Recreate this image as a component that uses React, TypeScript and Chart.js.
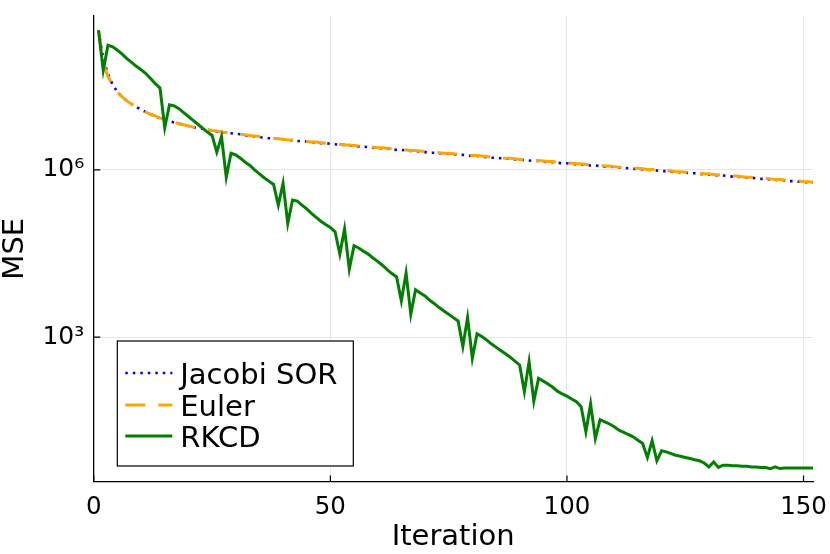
import { useEffect, useRef } from 'react';
import Chart from 'chart.js/auto';

Chart.defaults.font.family = "'DejaVu Sans', sans-serif";

const xTicks = [0, 50, 100, 150];
const yTicks = [1e3, 1e6];
const yTickLabels = ['10³', '10⁶'];
const seriesLabels = ['Jacobi SOR', 'Euler', 'RKCD'];
const seriesColors = ['#0000ff', '#ffa500', '#008000'];

// log10(MSE) for iterations 1..152
const jacobiLog = [
  8.5, 8.0, 7.72, 7.53, 7.4, 7.31, 7.24, 7.18, 7.13, 7.08,
  7.04, 7.0, 6.96, 6.93, 6.9, 6.88, 6.85, 6.83, 6.81, 6.79,
  6.77, 6.75, 6.74, 6.72, 6.71, 6.69, 6.68, 6.67, 6.66, 6.65,
  6.64, 6.62, 6.61, 6.6, 6.59, 6.58, 6.57, 6.56, 6.56, 6.55,
  6.54, 6.53, 6.52, 6.51, 6.51, 6.5, 6.49, 6.48, 6.48, 6.47,
  6.46, 6.45, 6.45, 6.44, 6.43, 6.42, 6.42, 6.41, 6.4, 6.39,
  6.39, 6.38, 6.37, 6.36, 6.36, 6.35, 6.34, 6.34, 6.33, 6.32,
  6.31, 6.31, 6.3, 6.29, 6.29, 6.28, 6.27, 6.27, 6.26, 6.25,
  6.25, 6.24, 6.23, 6.22, 6.22, 6.21, 6.2, 6.2, 6.19, 6.18,
  6.18, 6.17, 6.16, 6.16, 6.15, 6.14, 6.14, 6.13, 6.12, 6.12,
  6.11, 6.1, 6.1, 6.09, 6.08, 6.08, 6.07, 6.06, 6.06, 6.05,
  6.04, 6.04, 6.03, 6.02, 6.02, 6.01, 6.0, 6.0, 5.99, 5.98,
  5.98, 5.97, 5.96, 5.96, 5.95, 5.94, 5.94, 5.93, 5.92, 5.92,
  5.91, 5.9, 5.9, 5.89, 5.88, 5.88, 5.87, 5.86, 5.86, 5.85,
  5.84, 5.84, 5.83, 5.82, 5.82, 5.81, 5.8, 5.8, 5.79, 5.78,
  5.78, 5.77,
];

const eulerLog = [
  8.5, 7.9, 7.68, 7.52, 7.4, 7.31, 7.24, 7.18, 7.13, 7.08,
  7.04, 7.0, 6.97, 6.93, 6.91, 6.88, 6.86, 6.83, 6.81, 6.79,
  6.77, 6.76, 6.74, 6.73, 6.71, 6.7, 6.68, 6.67, 6.66, 6.65,
  6.64, 6.63, 6.62, 6.61, 6.6, 6.59, 6.58, 6.57, 6.56, 6.55,
  6.54, 6.54, 6.53, 6.52, 6.51, 6.5, 6.5, 6.49, 6.48, 6.48,
  6.47, 6.46, 6.45, 6.45, 6.44, 6.43, 6.43, 6.42, 6.41, 6.4,
  6.4, 6.39, 6.38, 6.37, 6.37, 6.36, 6.35, 6.35, 6.34, 6.33,
  6.32, 6.32, 6.31, 6.3, 6.3, 6.29, 6.28, 6.28, 6.27, 6.26,
  6.26, 6.25, 6.24, 6.23, 6.23, 6.22, 6.21, 6.21, 6.2, 6.19,
  6.19, 6.18, 6.17, 6.17, 6.16, 6.15, 6.15, 6.14, 6.13, 6.13,
  6.12, 6.11, 6.11, 6.1, 6.09, 6.09, 6.08, 6.07, 6.07, 6.06,
  6.05, 6.05, 6.04, 6.03, 6.03, 6.02, 6.01, 6.01, 6.0, 5.99,
  5.99, 5.98, 5.97, 5.97, 5.96, 5.95, 5.95, 5.94, 5.93, 5.93,
  5.92, 5.91, 5.91, 5.9, 5.89, 5.89, 5.88, 5.87, 5.87, 5.86,
  5.85, 5.85, 5.84, 5.83, 5.83, 5.82, 5.81, 5.81, 5.8, 5.79,
  5.79, 5.78,
];

const rkcdLog = [
  8.51, 7.79, 8.24, 8.21, 8.15, 8.08, 8.0, 7.93, 7.86, 7.8,
  7.73, 7.64, 7.55, 7.47, 6.76, 7.17, 7.15, 7.1, 7.03, 6.96,
  6.89, 6.82, 6.75, 6.68, 6.62, 6.32, 6.6, 5.87, 6.3, 6.27,
  6.21, 6.14, 6.08, 6.0, 5.93, 5.86, 5.8, 5.74, 5.37, 5.76,
  5.04, 5.46, 5.44, 5.37, 5.3, 5.22, 5.15, 5.08, 5.02, 4.97,
  4.89, 4.49, 4.94, 4.22, 4.64, 4.6, 4.54, 4.49, 4.42, 4.36,
  4.29, 4.21, 4.14, 4.08, 3.65, 4.15, 3.41, 3.85, 3.79, 3.74,
  3.66, 3.6, 3.53, 3.47, 3.41, 3.35, 3.29, 2.83, 3.35, 2.62,
  3.06, 3.01, 2.95, 2.88, 2.82, 2.76, 2.7, 2.64, 2.57, 2.5,
  2.02, 2.56, 1.85, 2.26, 2.21, 2.16, 2.1, 2.03, 1.98, 1.94,
  1.89, 1.84, 1.75, 1.3, 1.8, 1.18, 1.52, 1.48, 1.44, 1.39,
  1.33, 1.29, 1.25, 1.21, 1.15, 1.09, 0.84, 1.14, 0.78, 0.96,
  0.94, 0.91, 0.88, 0.86, 0.84, 0.82, 0.8, 0.78, 0.74, 0.67,
  0.76, 0.66, 0.7, 0.7, 0.69, 0.69, 0.68, 0.68, 0.67, 0.67,
  0.66, 0.66, 0.64, 0.67, 0.64, 0.65, 0.65, 0.65, 0.65, 0.65,
  0.65, 0.65,
];

const toPoints = (logs: number[]) => logs.map((e, i) => ({ x: i + 1, y: 10 ** e }));

const dashes: number[][] = [[2.5, 5], [20, 13], []];

// inward tick marks + framed legend in the lower left of the plot
const overlayPlugin = {
  id: 'overlay',
  afterDraw(chart: any) {
    const { ctx, chartArea, scales } = chart;
    ctx.save();
    ctx.strokeStyle = '#000';
    ctx.lineWidth = 1.2;
    ctx.beginPath();
    for (const v of xTicks) {
      const px = scales.x.getPixelForValue(v);
      ctx.moveTo(px, chartArea.bottom);
      ctx.lineTo(px, chartArea.bottom - 6);
    }
    for (const v of yTicks) {
      const py = scales.y.getPixelForValue(v);
      ctx.moveTo(chartArea.left, py);
      ctx.lineTo(chartArea.left + 7, py);
    }
    ctx.stroke();

    const bx = chartArea.left + 24;
    const by = chartArea.bottom - 140.5;
    ctx.fillStyle = '#fff';
    ctx.fillRect(bx, by, 236, 125);
    ctx.lineWidth = 1.2;
    ctx.strokeRect(bx, by, 236, 125);

    ctx.font = "29px 'DejaVu Sans'";
    ctx.textBaseline = 'alphabetic';
    ctx.textAlign = 'left';
    const rows = [32, 64, 95];
    chart.data.datasets.forEach((ds: any, i: number) => {
      const cy = by + rows[i];
      ctx.strokeStyle = ds.borderColor;
      ctx.lineWidth = ds.borderWidth;
      ctx.setLineDash(dashes[i]);
      ctx.beginPath();
      ctx.moveTo(bx + 8, cy);
      ctx.lineTo(bx + 55, cy);
      ctx.stroke();
      ctx.setLineDash([]);
      ctx.fillStyle = '#000';
      ctx.fillText(ds.label, bx + 63, cy + 10.5);
    });
    ctx.restore();
  },
};

export default function App() {
  const canvasRef = useRef<HTMLCanvasElement>(null);

  useEffect(() => {
    const canvas = canvasRef.current;
    if (!canvas) return;

    const chart = new Chart(canvas, {
      type: 'line',
      data: {
        datasets: [
          {
            label: seriesLabels[0],
            data: toPoints(jacobiLog),
            borderColor: seriesColors[0],
            borderWidth: 2.6,
            borderDash: dashes[0],
            pointRadius: 0,
            tension: 0,
            order: 3,
          },
          {
            label: seriesLabels[1],
            data: toPoints(eulerLog),
            borderColor: seriesColors[1],
            borderWidth: 3,
            borderDash: dashes[1],
            pointRadius: 0,
            tension: 0,
            order: 2,
          },
          {
            label: seriesLabels[2],
            data: toPoints(rkcdLog),
            borderColor: seriesColors[2],
            borderWidth: 3,
            pointRadius: 0,
            tension: 0,
            order: 1,
          },
        ],
      },
      options: {
        responsive: false,
        animation: false,
        layout: { padding: { top: 16, right: 17, left: 0, bottom: 0 } },
        plugins: {
          legend: { display: false },
          tooltip: { enabled: false },
        },
        scales: {
          x: {
            type: 'linear',
            min: -0.1,
            max: 152,
            afterBuildTicks: (s: any) => {
              s.ticks = xTicks.map((v) => ({ value: v }));
            },
            afterFit: (s: any) => {
              s.height = 72.5;
              s.paddingLeft = 0;
              s.paddingRight = 0;
            },
            grid: { color: '#e6e6e6', lineWidth: 1, drawTicks: false },
            border: { display: true, color: '#000', width: 1.3 },
            ticks: {
              color: '#000',
              font: { size: 24.5 },
              padding: 11,
              maxRotation: 0,
              callback: (v: any) => String(v),
            },
            title: {
              display: true,
              text: 'Iteration',
              color: '#000',
              font: { size: 29, lineHeight: 1.2 },
              padding: { top: 0, bottom: -1 },
            },
          },
          y: {
            type: 'logarithmic',
            min: 2.56,
            max: 5.8e8,
            afterBuildTicks: (s: any) => {
              s.ticks = yTicks.map((v) => ({ value: v }));
            },
            afterFit: (s: any) => {
              s.width = 93.3;
              s.paddingTop = 0;
              s.paddingBottom = 0;
            },
            grid: { color: '#e6e6e6', lineWidth: 1, drawTicks: false },
            border: { display: true, color: '#000', width: 1.3 },
            ticks: {
              color: '#000',
              font: { size: 25 },
              padding: 9,
              callback: (v: any) => yTickLabels[yTicks.indexOf(Number(v))] ?? '',
            },
            title: {
              display: true,
              text: 'MSE',
              color: '#000',
              font: { size: 29, lineHeight: 1.05 },
              padding: { top: 0, bottom: 0 },
            },
          },
        },
      },
      plugins: [overlayPlugin],
    });

    return () => chart.destroy();
  }, []);

  return (
    <div style={{ position: 'absolute', left: 0, top: 0, width: 830, height: 554, background: '#fff' }}>
      <canvas ref={canvasRef} width={830} height={554} />
    </div>
  );
}
